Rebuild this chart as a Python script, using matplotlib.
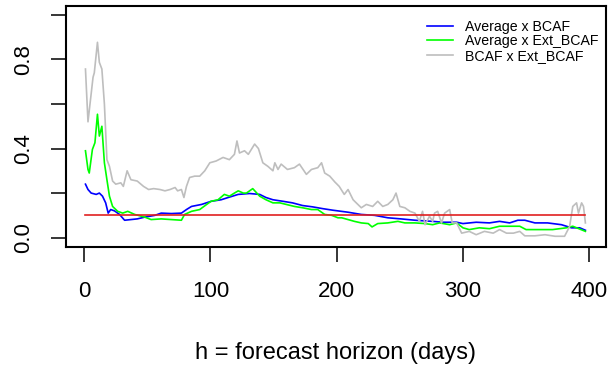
import matplotlib
matplotlib.use("Agg")
import matplotlib.pyplot as plt

plt.rcParams['font.family'] = ['Liberation Sans', 'DejaVu Sans']

# Average x BCAF (blue)
blue_days = [1, 3, 5.5, 9.5, 12, 14.5, 17, 19, 21, 24, 28, 32, 37, 42, 48, 56, 61, 69, 77, 81, 85, 93,
             100.5, 108.5, 114, 122, 131, 139, 144, 149.5, 157.5, 165, 173, 181, 189, 197, 209, 219.5,
             230, 240.5, 251, 262, 270, 276, 284, 295, 300, 310.5, 321, 329, 337, 343.5, 349, 357,
             367, 378, 386, 392.5, 397]
blue_vals = [0.24, 0.216, 0.20, 0.194, 0.20, 0.186, 0.156, 0.11, 0.126, 0.12, 0.104, 0.078, 0.081,
             0.084, 0.092, 0.10, 0.11, 0.108, 0.11, 0.126, 0.14, 0.149, 0.163, 0.17, 0.18, 0.194,
             0.198, 0.194, 0.18, 0.17, 0.163, 0.156, 0.144, 0.138, 0.13, 0.123, 0.114, 0.104, 0.10,
             0.089, 0.084, 0.078, 0.075, 0.073, 0.069, 0.069, 0.063, 0.069, 0.066, 0.073, 0.066,
             0.078, 0.078, 0.066, 0.066, 0.058, 0.044, 0.044, 0.033]

# Average x Ext_BCAF (green)
green_days = [1, 3, 4, 6.5, 8.5, 10.5, 12, 14, 16, 18, 20, 22.5, 26.5, 30.5, 34.5, 40, 48, 53, 61, 69,
              77, 79.5, 85, 91.5, 97, 100.5, 106, 111, 115, 119, 122, 126, 128.5, 133.5, 139, 144,
              149.5, 155, 160, 166.5, 173, 180, 185, 190.5, 196, 201, 204, 209, 214, 219.5, 225, 228,
              232.5, 240.5, 248.5, 254, 262, 270, 276, 281.5, 289.5, 295, 300, 305, 313, 321, 329,
              337, 345, 350, 361, 371, 382, 387, 397]
green_vals = [0.39, 0.306, 0.29, 0.396, 0.426, 0.554, 0.456, 0.50, 0.336, 0.26, 0.186, 0.14, 0.118,
              0.11, 0.118, 0.104, 0.092, 0.081, 0.084, 0.081, 0.078, 0.104, 0.118, 0.126, 0.149,
              0.163, 0.17, 0.194, 0.186, 0.20, 0.21, 0.20, 0.20, 0.22, 0.186, 0.17, 0.156, 0.156,
              0.149, 0.14, 0.134, 0.126, 0.126, 0.104, 0.10, 0.089, 0.089, 0.081, 0.073, 0.066,
              0.063, 0.048, 0.063, 0.066, 0.073, 0.066, 0.066, 0.063, 0.058, 0.066, 0.058, 0.066,
              0.044, 0.036, 0.044, 0.04, 0.051, 0.051, 0.051, 0.036, 0.036, 0.036, 0.044, 0.051, 0.028]

# BCAF x Ext_BCAF (gray)
gray_days = [1, 3, 7, 8, 10.5, 12, 14, 16, 18, 20, 22.5, 25, 29, 31, 34, 37, 42, 47, 51, 55, 60, 64,
             68, 72, 74, 77, 79, 81, 83.5, 87.5, 91.5, 95.5, 99.5, 104.5, 110, 115, 119, 121, 123,
             127, 130, 135, 138, 141.5, 145.5, 149.5, 151, 153.5, 156, 161, 166.5, 170.5, 176, 180,
             185, 188, 190.5, 194.5, 198.5, 202, 206, 209, 213, 215.5, 219.5, 223.5, 228.5, 232.5,
             236.5, 240.5, 244.5, 247, 250, 254, 258, 262, 265.5, 268, 270, 273.5, 276, 277.5, 280,
             283, 285.5, 289.5, 291.5, 295, 299, 305, 310.5, 317, 324, 329, 334.5, 340, 345, 349,
             357, 365, 373, 380.5, 384.5, 387, 390, 391.5, 394, 395.5, 397]
gray_vals = [0.757, 0.52, 0.72, 0.74, 0.877, 0.787, 0.757, 0.60, 0.35, 0.32, 0.254, 0.24, 0.246,
             0.23, 0.30, 0.26, 0.254, 0.23, 0.216, 0.22, 0.216, 0.21, 0.216, 0.225, 0.21, 0.216,
             0.18, 0.23, 0.27, 0.276, 0.276, 0.30, 0.336, 0.344, 0.36, 0.35, 0.374, 0.434, 0.38,
             0.39, 0.374, 0.42, 0.40, 0.336, 0.32, 0.30, 0.336, 0.306, 0.33, 0.306, 0.314, 0.33,
             0.284, 0.306, 0.314, 0.336, 0.29, 0.276, 0.25, 0.23, 0.194, 0.216, 0.17, 0.156, 0.134,
             0.149, 0.14, 0.163, 0.14, 0.149, 0.17, 0.20, 0.14, 0.134, 0.118, 0.11, 0.073, 0.118,
             0.058, 0.096, 0.073, 0.11, 0.118, 0.066, 0.11, 0.126, 0.066, 0.066, 0.02, 0.028, 0.013,
             0.028, 0.02, 0.036, 0.02, 0.02, 0.028, 0.008, 0.008, 0.013, 0.006, 0.006, 0.05, 0.14,
             0.156, 0.11, 0.156, 0.14, 0.066]

threshold = 0.1
h_range = [1, 397]

labels = ['Average x BCAF', 'Average x Ext_BCAF', 'BCAF x Ext_BCAF']
colors = ['#0000FF', '#00FF00', '#BEBEBE']

fig = plt.figure(figsize=(6.1, 3.67), dpi=100)
ax = fig.add_axes([0.1074, 0.3283, 0.886, 0.6553])

ax.plot(blue_days, blue_vals, color=colors[0], lw=1.2, label=labels[0])
ax.plot(green_days, green_vals, color=colors[1], lw=1.2, label=labels[1])
ax.plot(gray_days, gray_vals, color=colors[2], lw=1.2, label=labels[2])
ax.plot(h_range, [threshold, threshold], color='#E02020', lw=1.2)

ax.set_xlim(-14.8, 413.3)
ax.set_ylim(-0.04, 1.04)

ax.set_xticks([0, 100, 200, 300, 400])
ax.set_yticks([0.0, 0.2, 0.4, 0.6, 0.8, 1.0])
ax.set_yticklabels(['0.0', '', '0.4', '', '0.8', ''], rotation=90, va='center')
ax.tick_params(axis='both', direction='out', length=10.5, width=1.1, labelsize=16)
ax.tick_params(axis='x', pad=14)
ax.tick_params(axis='y', pad=12)
for s in ax.spines.values():
    s.set_linewidth(1.5)

ax.set_xlabel('h = forecast horizon (days)', fontsize=17, labelpad=29)

ax.legend(loc='upper right', frameon=False, fontsize=10.2, handlelength=1.8, handletextpad=0.9,
          labelspacing=0.05, borderaxespad=0.3, bbox_to_anchor=(1.005, 0.985))

fig.savefig('out.png', dpi=100)
